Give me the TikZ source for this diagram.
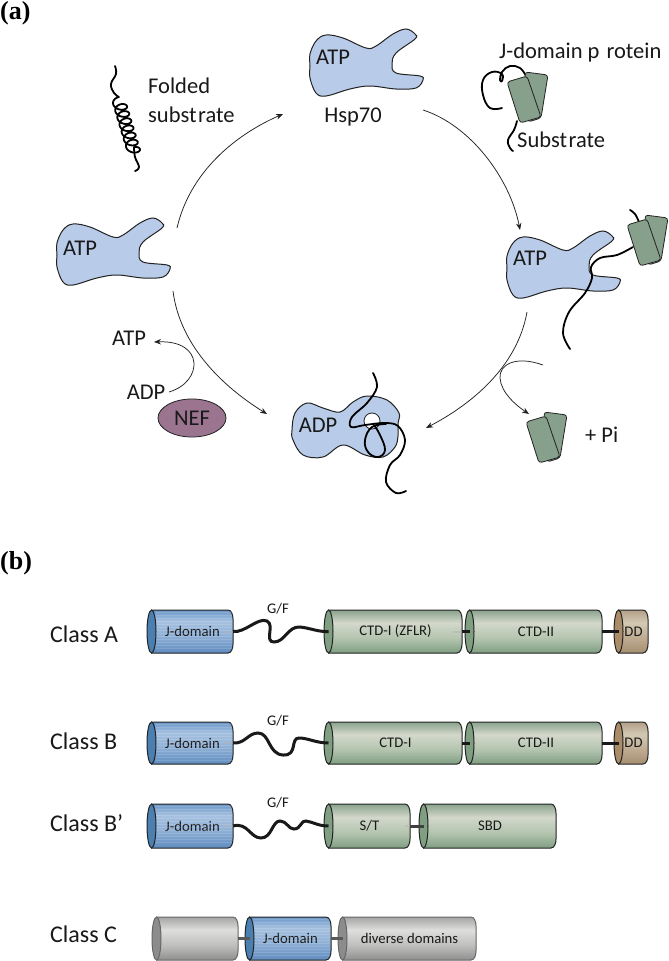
\documentclass[tikz,border=0pt]{standalone}
\usepackage{fontspec}
\setmainfont{Carlito}
\newfontfamily\panelfont{Liberation Serif}
\usetikzlibrary{arrows.meta}

\definecolor{cbB0}{HTML}{6C97C9}\definecolor{cbB1}{HTML}{A6C1E0}\definecolor{cbB2}{HTML}{8FB0D6}\definecolor{cbB3}{HTML}{5F8CBF}
\definecolor{cbG0}{HTML}{8AA38D}\definecolor{cbG1}{HTML}{D3D8CB}\definecolor{cbG2}{HTML}{B3C4AE}\definecolor{cbG3}{HTML}{7F9E82}
\definecolor{cbT0}{HTML}{B3A088}\definecolor{cbT1}{HTML}{D3C9B3}\definecolor{cbT2}{HTML}{BDAA90}\definecolor{cbT3}{HTML}{A68F72}
\definecolor{cbN0}{HTML}{A5A5A5}\definecolor{cbN1}{HTML}{DEDEDC}\definecolor{cbN2}{HTML}{BEBEBC}\definecolor{cbN3}{HTML}{8F8F8F}

\definecolor{hspblue}{HTML}{B8CBE8}
\definecolor{chapgreen}{HTML}{87A08B}
\definecolor{nefpurple}{HTML}{9B7590}
\definecolor{inkline}{HTML}{222222}
\definecolor{jcap}{HTML}{4A7FB0}

% Vertical shadings for the domain cylinders (visible range 25bp--75bp)
\pgfdeclareverticalshading{cylblue}{100bp}{color(0bp)=(cbB3);color(25bp)=(cbB3);color(45bp)=(cbB2);color(62bp)=(cbB1);color(75bp)=(cbB0);color(100bp)=(cbB0)}
\pgfdeclareverticalshading{cylgreen}{100bp}{color(0bp)=(cbG3);color(25bp)=(cbG3);color(42bp)=(cbG2);color(60bp)=(cbG1);color(75bp)=(cbG0);color(100bp)=(cbG0)}
\pgfdeclareverticalshading{cyltan}{100bp}{color(0bp)=(cbT3);color(25bp)=(cbT3);color(42bp)=(cbT2);color(60bp)=(cbT1);color(75bp)=(cbT0);color(100bp)=(cbT0)}
\pgfdeclareverticalshading{cylgray}{100bp}{color(0bp)=(cbN3);color(25bp)=(cbN3);color(42bp)=(cbN2);color(60bp)=(cbN1);color(75bp)=(cbN0);color(100bp)=(cbN0)}

\tikzset{
  hspblob/.pic={
    \fill[hspblue,draw=inkline,line width=1pt] plot[smooth cycle,tension=.6] coordinates {
      (57,255) (57,243) (63,230) (73,224) (90,227) (113,237) (123,235) (140,223) (153,218) (162,223) (162,228)
      (143,242) (139,253) (143,262) (167,265) (170,269) (163,277) (143,278) (117,275) (97,278) (73,285) (63,282) (57,267)};
  },
  chaperone/.pic={
    \draw[fill=chapgreen,draw=inkline,line width=.8pt,rounded corners=3pt] (525,72) -- (548,75) -- (541,118) -- (528,122) -- cycle;
    \draw[fill=chapgreen,draw=inkline,line width=.8pt,rounded corners=3pt] (507,82) -- (527,76) -- (541,117) -- (520,123) -- cycle;
  },
  cyclearrow/.style={draw=inkline,line width=.75pt,-{Stealth[length=7pt,width=5.5pt]}},
  chain/.style={draw=black,line width=1.8pt,line cap=round,line join=round},
  linker/.style={draw=black!90,line width=3pt},
  linkergray/.style={draw=black!65,line width=3pt},
  fadestub/.style={draw=black!30,line width=2pt,opacity=.5},
  label/.style={font=\fontsize{22.5}{22.5}\selectfont,text=black!90,inner sep=0pt},
  classlabel/.style={font=\fontsize{24}{24}\selectfont,text=black!90,inner sep=0pt,anchor=west},
  domlabel/.style={font=\fontsize{14.7}{14.7}\selectfont,text=black!90,inner sep=0pt},
  panel/.style={font=\panelfont\bfseries\fontsize{26}{26}\selectfont,text=black,inner sep=0pt,anchor=west},
}

% \domaincyl{name}{left}{right}{top}{bottom}{shading}{cap colour}{label}{outline}
\newcommand\domaincyl[9]{%
  \pgfmathsetmacro\cylmid{(#4+#5)/2}%
  \pgfmathsetmacro\cylcx{(#2+#3)/2+2.5}%
  \path[shading=#6,draw=#9,line width=1pt]
    (#2+4.5,#4) -- (#3-5,#4) .. controls (#3-1.5,#4) and (#3,#4+5) .. (#3,#4+9)
    -- (#3,#5-9) .. controls (#3,#5-5) and (#3-1.5,#5) .. (#3-5,#5) -- (#2+4.5,#5) -- cycle;
  \draw[fill=#7,draw=#9,line width=1pt] (#2+4.5,\cylmid) ellipse [x radius=4.5,y radius={(#5-#4)/2}];
  \coordinate (#1-l) at (#2+4.5,\cylmid);
  \coordinate (#1-r) at (#3,\cylmid);
  \node[domlabel] (#1-t) at (\cylcx,\cylmid) {#8};
}
% Faint scan lines across the blue J-domain cylinders
\newcommand\jstripes[3]{%
  \foreach \sy in {2,5,...,40}{\draw[white,opacity=.13,line width=.5pt] (#1+9,#3+\sy) -- (#2-1,#3+\sy);}
}

\begin{document}
\begin{tikzpicture}[x=1pt,y=-1pt]
\useasboundingbox (0,0) rectangle (669,961);
\fill[white] (0,0) rectangle (669,961);

\node[panel] (pa) at (0,13) {(a)};
\node[panel] (pb) at (0,563) {(b)};

%% Chaperone cycle
\pic {hspblob};
\pic at (253,-189) {hspblob};
\pic at (450,13) {hspblob};

% ADP state, with the substrate-binding cleft closed over the chain
\fill[hspblue,draw=inkline,line width=1pt] plot[smooth cycle,tension=.6] coordinates {
  (292,430) (295,413) (307,403) (323,408) (340,412) (353,402) (367,396) (387,400) (399,413) (398,423)
  (398,436) (395,447) (383,457) (365,455) (343,445) (323,457) (303,455) (293,440)};
\draw[fill=white,draw=inkline,line width=.8pt] (372,421) circle [radius=8];

\node[label] (atpL) at (80,248) {ATP};
\node[label] (atpT) at (333,57) {ATP};
\node[label] (atpR) at (530,258) {ATP};
\node[label] (adpC) at (318,425) {ADP};
\node[label] (hsp) at (353,117) {Hsp70};
\node[label,anchor=west] (fold1) at (148,86) {Folded};
\node[label,anchor=west] (fold2) at (148,115) {subst\kern1.5pt rate};
\node[label,anchor=west] (jdp) at (499,53) {J-domain p\kern7pt rotein};
\node[label,anchor=west] (subs) at (517,140) {Subst\kern1.5pt rate};
\node[label] (atpN) at (129,338) {ATP};
\node[label] (adpN) at (146,392) {ADP};
\draw[fill=nefpurple,draw=inkline,line width=.8pt] (192,418) ellipse [x radius=34,y radius=19];
\node[label] (nef) at (192,418) {NEF};
\node[label,anchor=west] (pi) at (585,435) {+ Pi};

% Folded substrate: a short helix with two loose ends
\draw[chain] plot[smooth,tension=.7] coordinates {(115,66) (116,74) (111,84) (114,93) (119,97)};
\draw[draw=black,line width=1.8pt,line join=round]
  plot[domain=0:7,samples=220,smooth] ({119+15*\x/7-6.5*sin(\x*360)},{101.5+50*\x/7-4.5*cos(\x*360)});
\draw[chain] plot[smooth,tension=.7] coordinates {(134,147) (135,157) (139,167) (135,171)};

% Free co-chaperone with its substrate
\draw[chain] plot[smooth,tension=.7] coordinates {(502,108) (490,108) (483,95) (483,80) (492,72) (502,74) (502,81) (500,80) (502,72) (510,66) (520,68) (526,76)};
\draw[chain] plot[smooth,tension=.7] coordinates {(517,121) (514,130) (508,140) (510,148) (513,151)};
\pic {chaperone};

% Co-chaperone delivering the substrate to the open state
\draw[chain] plot[smooth,tension=.7] coordinates {(630,210) (635,214) (639,222)};
\draw[chain] plot[smooth,tension=.6] coordinates {(633,247) (617,255) (600,258) (591,267) (592,278) (585,293) (569,312) (563,333) (570,349)};
\pic at (120,143) {chaperone};
\pic at (19,340) {chaperone};

% Substrate trapped in the ADP state
\draw[chain] plot[smooth,tension=.6] coordinates {(373,373) (377,387) (367,403) (352,417) (351,427) (365,425) (385,423) (398,426) (405,440) (400,455) (390,465) (386,482) (396,493) (406,491)};
\draw[chain] plot[smooth,tension=.7] coordinates {(386,424) (372,427) (365,440) (368,452) (378,457) (385,450) (380,435) (374,425)};

% Cycle arrows
\coordinate (c1a) at (177,228); \coordinate (c1b) at (283,114);
\coordinate (c2a) at (423,110); \coordinate (c2b) at (520,230);
\coordinate (c3a) at (527,312); \coordinate (c3b) at (426,428);
\coordinate (c4a) at (173,291); \coordinate (c4b) at (267,414);
\coordinate (nefa) at (169,392); \coordinate (nefb) at (154,342);
\coordinate (pia) at (543,365); \coordinate (pib) at (529,414);
\draw[cyclearrow] (c1a) .. controls (190,172) and (235,135) .. (c1b);
\draw[cyclearrow] (c2a) .. controls (470,125) and (510,178) .. (c2b);
\draw[cyclearrow] (c3a) .. controls (517,368) and (470,405) .. (c3b);
\draw[cyclearrow] (c4a) .. controls (180,347) and (225,388) .. (c4b);
\draw[cyclearrow] (nefa) .. controls (203,382) and (205,340) .. (nefb);
\draw[cyclearrow] (pia) .. controls (515,355) and (499,365) .. (500,378) .. controls (501,393) and (517,406) .. (pib);

%% Domain architecture
\node[classlabel] (ca) at (50,634) {Class A};
\node[classlabel] (cb) at (50,741) {Class B};
\node[classlabel] (cbp) at (50,823) {Class B’};
\node[classlabel] (cc) at (50,934) {Class C};

\node[domlabel] (gfa) at (278,609) {G/F};
\node[domlabel] (gfb) at (278,721) {G/F};
\node[domlabel] (gfp) at (278,803) {G/F};

% Class A
\domaincyl{aJ}{147}{233}{610}{653}{cylblue}{jcap}{J-domain}{inkline}
\jstripes{147}{233}{610}
\domaincyl{aC}{324}{462}{610}{653}{cylgreen}{cbG3}{CTD-I (ZFLR)}{inkline}
\domaincyl{aD}{465}{602}{610}{653}{cylgreen}{cbG3}{CTD-II}{inkline}
\domaincyl{aE}{614}{648}{610}{653}{cyltan}{cbT3!80!brown}{DD}{inkline}
\draw[fadestub] ([xshift=-8pt]aJ-r) -- (aJ-r);
\draw[fadestub] ([xshift=-9pt]aC-r) -- (aC-r);
\draw[linker] (aJ-r) .. controls (245,633) and (258,617) .. (267,621) .. controls (275,625) and (264,642) .. (274,642) .. controls (285,642) and (288,626) .. (300,627) .. controls (310,628) and (318,632) .. (aC-l);
\draw[linker] (aC-r) -- (aD-l);
\draw[linker] (aD-r) -- (aE-l);

% Class B
\domaincyl{bJ}{147}{233}{722}{764}{cylblue}{jcap}{J-domain}{inkline}
\jstripes{147}{233}{722}
\domaincyl{bC}{324}{462}{722}{764}{cylgreen}{cbG3}{CTD-I}{inkline}
\domaincyl{bD}{465}{602}{722}{764}{cylgreen}{cbG3}{CTD-II}{inkline}
\domaincyl{bE}{614}{648}{722}{764}{cyltan}{cbT3!80!brown}{DD}{inkline}
\draw[fadestub] ([xshift=-8pt]bJ-r) -- (bJ-r);
\draw[linker] (bJ-r) .. controls (245,744) and (248,733) .. (258,733) .. controls (270,733) and (268,754) .. (283,755) .. controls (298,756) and (290,738) .. (299,738) .. controls (308,738) and (316,743) .. (bC-l);
\draw[linker] (bC-r) -- (bD-l);
\draw[linker] (bD-r) -- (bE-l);

% Class B'
\domaincyl{pJ}{147}{233}{804}{848}{cylblue}{jcap}{J-domain}{inkline}
\jstripes{147}{233}{804}
\domaincyl{pS}{324}{410}{804}{848}{cylgreen}{cbG3}{S/T}{inkline}
\domaincyl{pB}{419}{556}{804}{848}{cylgreen}{cbG3}{SBD}{inkline}
\draw[fadestub] ([xshift=-8pt]pJ-r) -- (pJ-r);
\draw[fadestub] ([xshift=-5pt]pS-r) -- (pS-r);
\draw[linker] (pJ-r) .. controls (248,822) and (250,838) .. (261,838) .. controls (272,838) and (272,821) .. (280,821) .. controls (287,821) and (288,829) .. (294,829) .. controls (301,829) and (301,820) .. (306,821) .. controls (313,822) and (318,826) .. (pS-l);
\draw[linker,draw=black!75] (pS-r) -- (pB-l);

% Class C
\domaincyl{cN}{152}{238}{917}{960}{cylgray}{black!45}{}{black!60}
\domaincyl{cJ}{245}{331}{917}{960}{cylblue}{jcap}{J-domain}{inkline}
\jstripes{245}{331}{917}
\domaincyl{cD}{338}{476}{917}{960}{cylgray}{black!45}{diverse domains}{black!60}
\draw[linkergray] (cN-r) -- (cJ-l);
\draw[linkergray] (cJ-r) -- (cD-l);
\end{tikzpicture}
\end{document}
